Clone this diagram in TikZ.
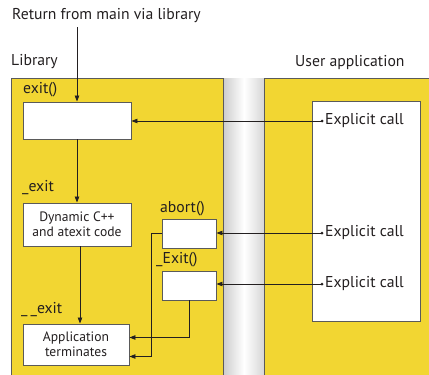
\documentclass[tikz,border=0pt]{standalone}
\usepackage{fontspec}
\setmainfont{PT Sans}
\usetikzlibrary{arrows.meta,shadings}
\definecolor{libyellow}{RGB}{242,214,50}
\definecolor{edge}{RGB}{90,90,90}
\definecolor{txt}{RGB}{35,31,32}
\tikzset{
  panel/.style={draw=edge,line width=0.9pt,fill=libyellow},
  wbox/.style={draw=edge,line width=0.9pt,fill=white,inner sep=0pt,align=center,font=\fontsize{13.6}{16}\selectfont,text=txt},
  lbl/.style={font=\fontsize{15.7}{18}\selectfont,text=txt,inner sep=0pt,anchor=west},
  conn/.style={draw=txt,line width=0.8pt,-{Triangle[length=6pt,width=4.5pt]}},
  dotc/.style={circle,fill=txt,inner sep=0pt,minimum size=3pt}
}
\begin{document}
\begin{tikzpicture}[x=1pt,y=-1pt]
\useasboundingbox (0,0) rectangle (429,375);
\clip (0,0) rectangle (429,375);
% shaded gap between panels
\shade[left color=black!20,right color=white] (223,78) rectangle (244,380);
\shade[left color=white,right color=black!16] (244,78) rectangle (264,380);
% panels
\draw[panel] (11,78) rectangle (223,385);
\draw[panel] (264,78) rectangle (440,385);
\node[lbl] (libt) at (11,62) {Library};
\node[lbl] (usrt) at (295,63) {User application};
\node[lbl] (ret) at (12,16) {Return from main via library};
% user inner box
\node[draw=edge,line width=0.9pt,fill=white,minimum width=108pt,minimum height=220pt,inner sep=0pt] (ub) at (366,211) {};
% library boxes
\node[wbox,minimum width=108pt,minimum height=37pt] (exitb) at (77,120.5) {};
\node[wbox,minimum width=108pt,minimum height=43pt] (dyn) at (77,224.5) {Dynamic C++\\[-1pt]and atexit code};
\node[wbox,minimum width=106pt,minimum height=41pt] (term) at (76,344.5) {Application\\[-1pt]terminates};
\node[wbox,minimum width=54pt,minimum height=29pt] (abortb) at (189,233.5) {};
\node[wbox,minimum width=54pt,minimum height=29pt] (Exitb) at (189,285.5) {};
% labels
\node[lbl] (l1) at (23,90) {exit()};
\node[lbl] (l2) at (22,188) {\_exit};
\node[lbl] (l3) at (160,209) {abort()};
\node[lbl] (l4) at (156,260) {\_Exit()};
\node[lbl] (l5) at (21,310) {\_\hspace{3pt}\_exit};
% explicit calls
\node[dotc] (d1) at (322,121) {};
\node[dotc] (d2) at (322,233) {};
\node[dotc] (d3) at (322,284) {};
\node[lbl,anchor=west] (e1) at (325,121) {Explicit call};
\node[lbl,anchor=west] (e2) at (325,233) {Explicit call};
\node[lbl,anchor=west] (e3) at (325,284) {Explicit call};
% connectors
\draw[conn] (ret.south -| exitb.north) ++(0,4) -- (exitb.north);
\draw[conn] (exitb.south) -- (exitb.south |- dyn.north);
\draw[conn] ([xshift=3pt]dyn.south) -- ([xshift=3pt]dyn.south |- term.north);
\draw[conn] (d1.center) -- (d1 -| exitb.east);
\draw[conn] (d2.center) -- (d2 -| abortb.east);
\draw[conn] (d3.center) -- (d3 -| Exitb.east);
\draw[conn] (abortb.west) -- ++(-10,0) |- ([yshift=-12pt]term.east);
\draw[conn] (Exitb.south) |- ([yshift=7pt]term.east);
\end{tikzpicture}
\end{document}
